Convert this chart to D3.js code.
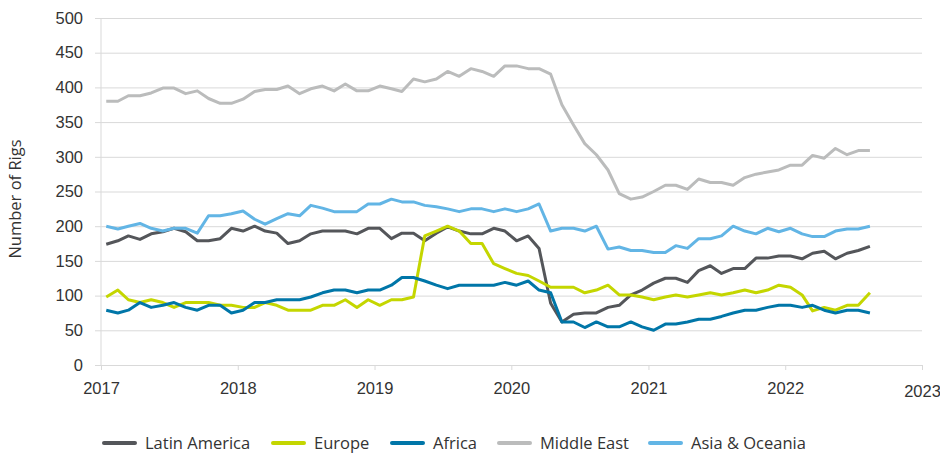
<!DOCTYPE html>
<html>
<head>
<meta charset="utf-8">
<script src="https://cdn.jsdelivr.net/npm/d3@7"></script>
<style>
  body { margin: 0; background: #fff; }
  svg { font-family: "Open Sans", sans-serif; }
</style>
</head>
<body>
<div id="chart"></div>
<script>
// monthly rig counts, Jan 2017 - Aug 2022
var seriesNames = ['Latin America', 'Europe', 'Africa', 'Middle East', 'Asia & Oceania'];
var seriesColors = ['#54565a', '#c4d600', '#0076a8', '#bbbcbc', '#62b5e5'];

var latinAmerica = [174,179,186,181,189,192,197,192,179,179,182,197,
  193,200,193,190,175,179,189,193,193,193,189,197,
  197,182,190,190,179,190,199,193,189,189,197,193,
  179,186,168,89,62,73,75,75,83,86,101,108,
  118,125,125,119,136,143,132,139,139,154,154,157,
  157,153,161,164,153,161,165,171];
var europe = [98,108,94,90,94,90,83,90,90,90,86,86,
  83,83,90,86,79,79,79,86,86,94,83,94,
  86,94,94,98,186,193,200,193,175,175,146,139,
  132,129,121,112,112,112,104,108,115,101,101,98,
  94,98,101,98,101,104,101,104,108,104,108,115,
  112,101,78,83,79,86,86,104];
var africa = [79,75,79,90,83,86,90,83,79,86,86,75,
  79,90,90,94,94,94,98,104,108,108,104,108,
  108,115,126,126,121,115,110,115,115,115,115,119,
  115,121,108,104,62,62,54,62,55,55,62,55,
  50,59,59,62,66,66,70,75,79,79,83,86,
  86,83,86,79,75,79,79,75];
var middleEast = [380,380,388,388,392,399,399,391,395,384,377,377,
  383,394,397,397,402,391,398,402,395,405,395,395,
  402,398,394,412,408,412,423,416,427,423,416,431,
  431,427,427,419,375,346,319,303,281,247,239,242,
  250,259,259,253,268,263,263,259,270,275,278,281,
  288,288,302,298,312,303,309,309];
var asiaOceania = [200,196,200,204,197,193,197,197,190,215,215,218,
  222,210,203,211,218,215,230,226,221,221,221,232,
  232,239,235,235,230,228,225,221,225,225,221,225,
  221,225,232,193,197,197,193,200,167,170,165,165,
  162,162,172,168,182,182,186,200,193,189,197,192,
  197,189,185,185,193,196,196,200];

var yTicks = [0, 50, 100, 150, 200, 250, 300, 350, 400, 450, 500];
var yearTicks = ['2017', '2018', '2019', '2020', '2021', '2022', '2023'];

var allSeries = [latinAmerica, europe, africa, middleEast, asiaOceania];

// one date per month, plotted mid-month
var months = d3.timeMonth.range(new Date(2017, 0, 1), new Date(2017, latinAmerica.length, 1))
  .map(function(d) { return new Date(d.getFullYear(), d.getMonth(), 15); });

var width = 940,
    height = 453,
    margin = {top: 18, right: 18, bottom: 88, left: 101},
    fontSize = '16.5px';

var svg = d3.select('#chart').append('svg')
    .attr('width', width)
    .attr('height', height);

var x = d3.scaleTime()
    .domain([new Date(2017, 0, 1), new Date(2023, 0, 1)])
    .range([margin.left, width - margin.right]);

var y = d3.scaleLinear()
    .domain([0, 500])
    .range([height - margin.bottom, margin.top]);

// gridlines + y labels
var yAxis = svg.append('g')
    .attr('transform', 'translate(' + margin.left + ',0)')
    .call(d3.axisLeft(y)
      .tickValues(yTicks)
      .tickSize(-(width - margin.right - margin.left))
      .tickPadding(18));
yAxis.select('.domain').remove();
yAxis.selectAll('.tick line')
    .attr('x1', -6)
    .attr('stroke', '#d9d9d9');
yAxis.selectAll('.tick text')
    .attr('fill', '#333')
    .style('font-size', fontSize);

// y axis line
svg.append('line')
    .attr('x1', margin.left).attr('x2', margin.left)
    .attr('y1', margin.top).attr('y2', y(0))
    .attr('stroke', '#d9d9d9');

// x axis
var xAxis = svg.append('g')
    .attr('transform', 'translate(0,' + y(0) + ')')
    .call(d3.axisBottom(x)
      .tickValues(yearTicks.map(function(d) { return new Date(+d, 0, 1); }))
      .tickFormat(d3.timeFormat('%Y'))
      .tickSize(5)
      .tickPadding(12));
xAxis.select('.domain').attr('stroke', '#d9d9d9');
xAxis.selectAll('.tick line').attr('stroke', '#d9d9d9');
xAxis.selectAll('.tick text')
    .attr('fill', '#333')
    .style('font-size', fontSize);
xAxis.selectAll('.tick text')
    .filter(function(d, i) { return i === yearTicks.length - 1; })
    .attr('dy', '0.9em');

// y title
svg.append('text')
    .attr('transform', 'translate(21,199) rotate(-90)')
    .attr('text-anchor', 'middle')
    .attr('fill', '#333')
    .style('font-size', fontSize)
    .text('Number of Rigs');

var line = d3.line()
    .x(function(d, i) { return x(months[i]); })
    .y(function(d) { return y(d); });

svg.selectAll('path.series')
    .data(allSeries)
  .enter().append('path')
    .attr('class', 'series')
    .attr('fill', 'none')
    .attr('stroke', function(d, i) { return seriesColors[i]; })
    .attr('stroke-width', 3)
    .attr('stroke-linejoin', 'round')
    .attr('d', line);

// legend
var legendX = [102, 271, 390, 497, 648];
var legend = svg.selectAll('g.legend')
    .data(seriesNames)
  .enter().append('g')
    .attr('class', 'legend')
    .attr('transform', function(d, i) { return 'translate(' + legendX[i] + ',443)'; });

legend.append('line')
    .attr('x1', 2).attr('x2', 33)
    .attr('stroke', function(d, i) { return seriesColors[i]; })
    .attr('stroke-width', 4)
    .attr('stroke-linecap', 'round');

legend.append('text')
    .attr('x', 43)
    .attr('dy', '0.35em')
    .attr('fill', '#333')
    .style('font-size', fontSize)
    .text(function(d) { return d; });
</script>
</body>
</html>
